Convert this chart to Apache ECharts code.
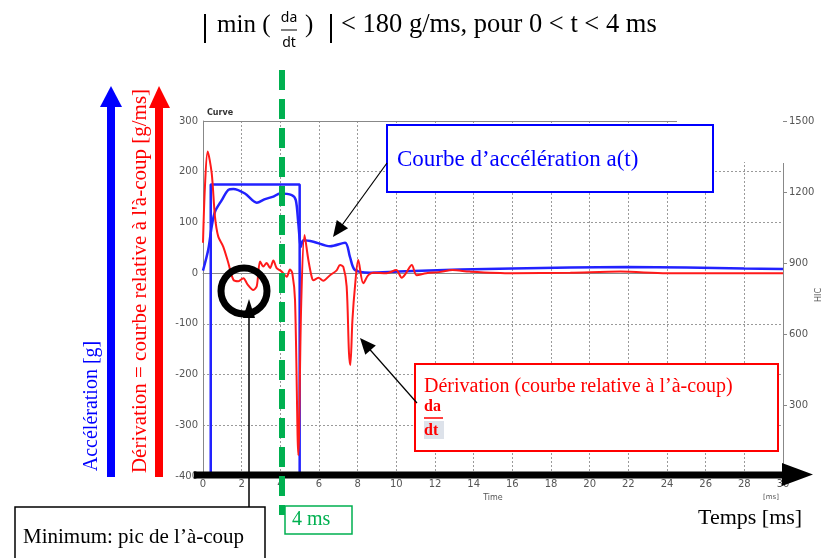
<!DOCTYPE html>
<html><head><meta charset="utf-8">
<script src="https://cdn.jsdelivr.net/npm/echarts@6/dist/echarts.min.js"></script>
<style>html,body{margin:0;padding:0;background:#fff;}#c{width:827px;height:558px;}</style>
</head><body><div id="c"></div>
<script>
// ---- data ----
const accTime   = [0, 0.27, 0.45, 0.62, 0.97, 1.31, 1.57, 2.17, 2.78, 3.21, 3.64, 3.98, 4.59, 4.8, 4.93, 5.07, 5.19, 5.71, 6.57, 7.35, 7.6, 7.86, 8.64, 10.1, 13.3, 16, 19, 21.9, 25, 28, 30];
const accValues = [5, 46, 92, 121, 144, 164, 166, 157, 139, 146, 151, 157, 154, 144, 98, 52, 65, 62, 53, 60, 32, 6, 1, 3, 7, 9, 11, 12, 11, 9, 8];

const jerkTime   = [0, 0.1, 0.24, 0.45, 0.62, 0.79, 1.05, 1.31, 1.57, 1.83, 2.09, 2.3, 2.6, 2.78, 2.95, 3.12, 3.29, 3.47, 3.64, 3.81, 4.07, 4.33, 4.5, 4.62, 4.76, 4.93, 5.08, 5.25, 5.45, 5.62, 5.71, 5.97, 6.22, 6.57, 6.9, 7.09, 7.26, 7.43, 7.55, 7.62, 7.73, 7.86, 8.03, 8.29, 8.55, 8.81, 9.5, 10.0, 10.28, 10.5, 10.8, 11.05, 11.55, 12.2, 12.9, 13.8, 16, 19, 21.6, 24, 27, 30];
const jerkValues = [60, 170, 240, 197, 111, 72, 52, 20, -13, -16, -10, -22, -33, -26, 23, 13, 20, 10, 25, 10, 3, -7, 7, 0, -53, -359, -60, 75, 26, -7, -14, -9, -15, -4, 5, 16, 12, -26, -157, -181, -92, -27, 26, -20, -4, 1, 0, 6, -9, 0, 16, -4, 0, 2, 6, 3, 0, 1, 3, 0, 0, 0];

const hicTime   = [0.4, 0.4, 5.0, 5.0];
const hicValues = [0, 1232, 1232, 0];

const timeRange = [0, 30, 2];
const accRange  = [-400, 300, 100];
const hicRange  = [0, 1500, 300];

// ---- helpers ----
const pairs = (xs, ys) => xs.map((x, i) => [x, ys[i]]);
function head(x1, y1, x2, y2, len, half) {
  const dx = x2 - x1, dy = y2 - y1, L = Math.hypot(dx, dy), ux = dx / L, uy = dy / L;
  const bx = x2 - ux * len, by = y2 - uy * len;
  return [[x2, y2], [bx - uy * half, by + ux * half], [bx + uy * half, by - ux * half]];
}
const SERIF = '"Liberation Serif", "Times New Roman", serif';
const SANS = '"DejaVu Sans", sans-serif';
const BLUE = '#0000ff', RED = '#ff0000', GREEN = '#00b050';
function txt(x, y, text, font, fill, align, extra) {
  return Object.assign({ type: 'text', x: x, y: y, z: 120,
    style: { text: text, font: font, fill: fill, align: align || 'left', verticalAlign: 'middle',
             textAlign: align || 'left', textVerticalAlign: 'middle' } }, extra || {});
}
function ln(x1, y1, x2, y2, stroke, w, dash, z) {
  return { type: 'line', z: z || 110, shape: { x1, y1, x2, y2 },
           style: { stroke: stroke, lineWidth: w, lineDash: dash || null } };
}
function poly(points, fill, z) {
  return { type: 'polygon', z: z || 110, shape: { points: points }, style: { fill: fill } };
}
function box(x, y, w, h, stroke, lw, z) {
  return { type: 'rect', z: z || 105, shape: { x, y, width: w, height: h },
           style: { fill: '#fff', stroke: stroke, lineWidth: lw } };
}

const chart = echarts.init(document.getElementById('c'), null, { renderer: 'canvas' });

const graphics = [
  // frame details of the original plot
  { type: 'rect', z: 5, shape: { x: 678, y: 112, width: 105, height: 50 }, style: { fill: '#fff' } },
  ln(203, 121.5, 677, 121.5, '#888', 1, null, 6),
  ln(783.5, 163, 783.5, 476, '#888', 1, null, 6),
  txt(207, 113, 'Curve', 'bold 8px ' + SANS, '#333'),
  txt(771, 497, '[ms]', '7px ' + SANS, '#555', 'center'),
  txt(819, 295, 'HIC', '8px ' + SANS, '#555', 'center', { rotation: Math.PI / 2 }),

  // title formula
  ln(205, 14, 205, 43, '#000', 2),
  txt(217, 25, 'min (', '25px ' + SERIF, '#000'),
  txt(289, 18, 'da', '14px "Noto Sans"', '#000', 'center'),
  ln(281, 30, 297, 30, '#000', 1),
  txt(289, 43, 'dt', '14px "Noto Sans"', '#000', 'center'),
  txt(305, 25, ')', '25px ' + SERIF, '#000'),
  ln(331, 14, 331, 43, '#000', 2),
  txt(341, 25, '< 180 g/ms, pour 0 < t < 4 ms', '26.5px ' + SERIF, '#000'),

  // vertical axis arrows + labels
  ln(111, 477, 111, 104, BLUE, 8),
  poly([[100, 107], [111, 86], [122, 107]], BLUE),
  ln(159, 477, 159, 104, RED, 8),
  poly([[149, 108], [159, 86], [170, 108]], RED),
  txt(92, 406, 'Accélération [g]', '20px ' + SERIF, BLUE, 'center', { rotation: Math.PI / 2 }),
  txt(140, 281, "Dérivation = courbe relative à l'à-coup [g/ms]", '21px ' + SERIF, RED, 'center', { rotation: Math.PI / 2 }),

  // time arrow
  ln(194, 475, 786, 475, '#000', 7),
  poly([[782, 463], [813, 474.5], [782, 486]], '#000'),
  txt(698, 518, 'Temps [ms]', '22px ' + SERIF, '#000'),

  // 4 ms marker
  ln(282, 70, 282, 515, GREEN, 6, [20, 9], 112),
  box(285, 506, 67, 28, GREEN, 1.5, 113),
  txt(292, 520, '4 ms', '20px ' + SERIF, GREEN),

  // minimum marker
  { type: 'circle', z: 115, shape: { cx: 244, cy: 291, r: 23 }, style: { fill: 'none', stroke: '#000', lineWidth: 7 } },
  ln(249, 316, 249, 507, '#000', 1.5, null, 116),
  poly([[243, 318], [249, 299], [255, 318]], '#000', 116),
  box(15, 507, 250, 70, '#000', 1.5, 117),
  txt(23, 537, 'Minimum: pic de l’à-coup', '21px ' + SERIF, '#000'),

  // acceleration callout
  box(387, 125, 326, 67, BLUE, 2),
  txt(397, 160, 'Courbe d’accélération a(t)', '23px ' + SERIF, BLUE),
  ln(387, 163, 340, 228, '#000', 1.2),
  poly(head(387, 163, 333, 237, 16, 7), '#000'),

  // derivative callout
  box(415, 364, 363, 87, RED, 2),
  txt(424, 387, 'Dérivation (courbe relative à l’à-coup)', '20px ' + SERIF, RED),
  txt(424, 407, 'da', 'bold 16px ' + SERIF, RED),
  ln(424, 418, 443, 418, RED, 1.5),
  { type: 'rect', z: 108, shape: { x: 424, y: 421, width: 20, height: 18 }, style: { fill: '#dde2ea' } },
  txt(424, 431, 'dt', 'bold 16px ' + SERIF, RED),
  ln(417, 403, 365, 344, '#000', 1.2),
  poly(head(417, 403, 360, 338, 16, 7), '#000')
];

const axisLabel = { color: '#555', fontSize: 10, fontFamily: SANS, formatter: v => String(v) };
const option = {
  animation: false,
  backgroundColor: '#fff',
  grid: { left: 203, right: 44, top: 121, bottom: 82, show: false, containLabel: false, outerBoundsMode: 'none' },
  xAxis: {
    type: 'value', min: timeRange[0], max: timeRange[1], interval: timeRange[2],
    name: 'Time', nameLocation: 'middle', nameGap: 17,
    nameTextStyle: { color: '#555', fontSize: 8, fontFamily: SANS },
    axisLine: { show: true, lineStyle: { color: '#888' } },
    axisTick: { show: false },
    axisLabel: Object.assign({}, axisLabel, { margin: 3 }),
    splitLine: { show: true, showMinLine: false, showMaxLine: false, lineStyle: { color: '#9a9a9a', type: [2, 2], width: 1 } }
  },
  yAxis: [{
    type: 'value', min: accRange[0], max: accRange[1], interval: accRange[2], position: 'left',
    axisLine: { show: true, lineStyle: { color: '#888' } },
    axisTick: { show: false },
    axisLabel: Object.assign({}, axisLabel, { margin: 5 }),
    splitLine: { show: true, showMinLine: false, showMaxLine: false, lineStyle: { color: '#9a9a9a', type: [2, 2], width: 1 } }
  }, {
    type: 'value', min: hicRange[0], max: hicRange[1], interval: hicRange[2], position: 'right',
    axisLine: { show: false },
    axisTick: { show: true, length: 4, lineStyle: { color: '#888' } },
    axisLabel: Object.assign({}, axisLabel, { margin: 6 }),
    splitLine: { show: false }
  }],
  series: [{
    name: 'HIC', type: 'line', yAxisIndex: 1, data: pairs(hicTime, hicValues),
    symbol: 'none', lineStyle: { color: '#2222ff', width: 2.5 }, z: 2
  }, {
    name: 'a(t)', type: 'line', yAxisIndex: 0, data: pairs(accTime, accValues),
    symbol: 'none', smooth: 0.3, lineStyle: { color: '#2222ff', width: 2.5 }, z: 3
  }, {
    name: 'da/dt', type: 'line', yAxisIndex: 0, data: pairs(jerkTime, jerkValues),
    symbol: 'none', smooth: 0.3, lineStyle: { color: '#ff1a1a', width: 2 }, z: 4
  }],
  graphic: graphics
};
chart.setOption(option);
</script>
</body></html>
